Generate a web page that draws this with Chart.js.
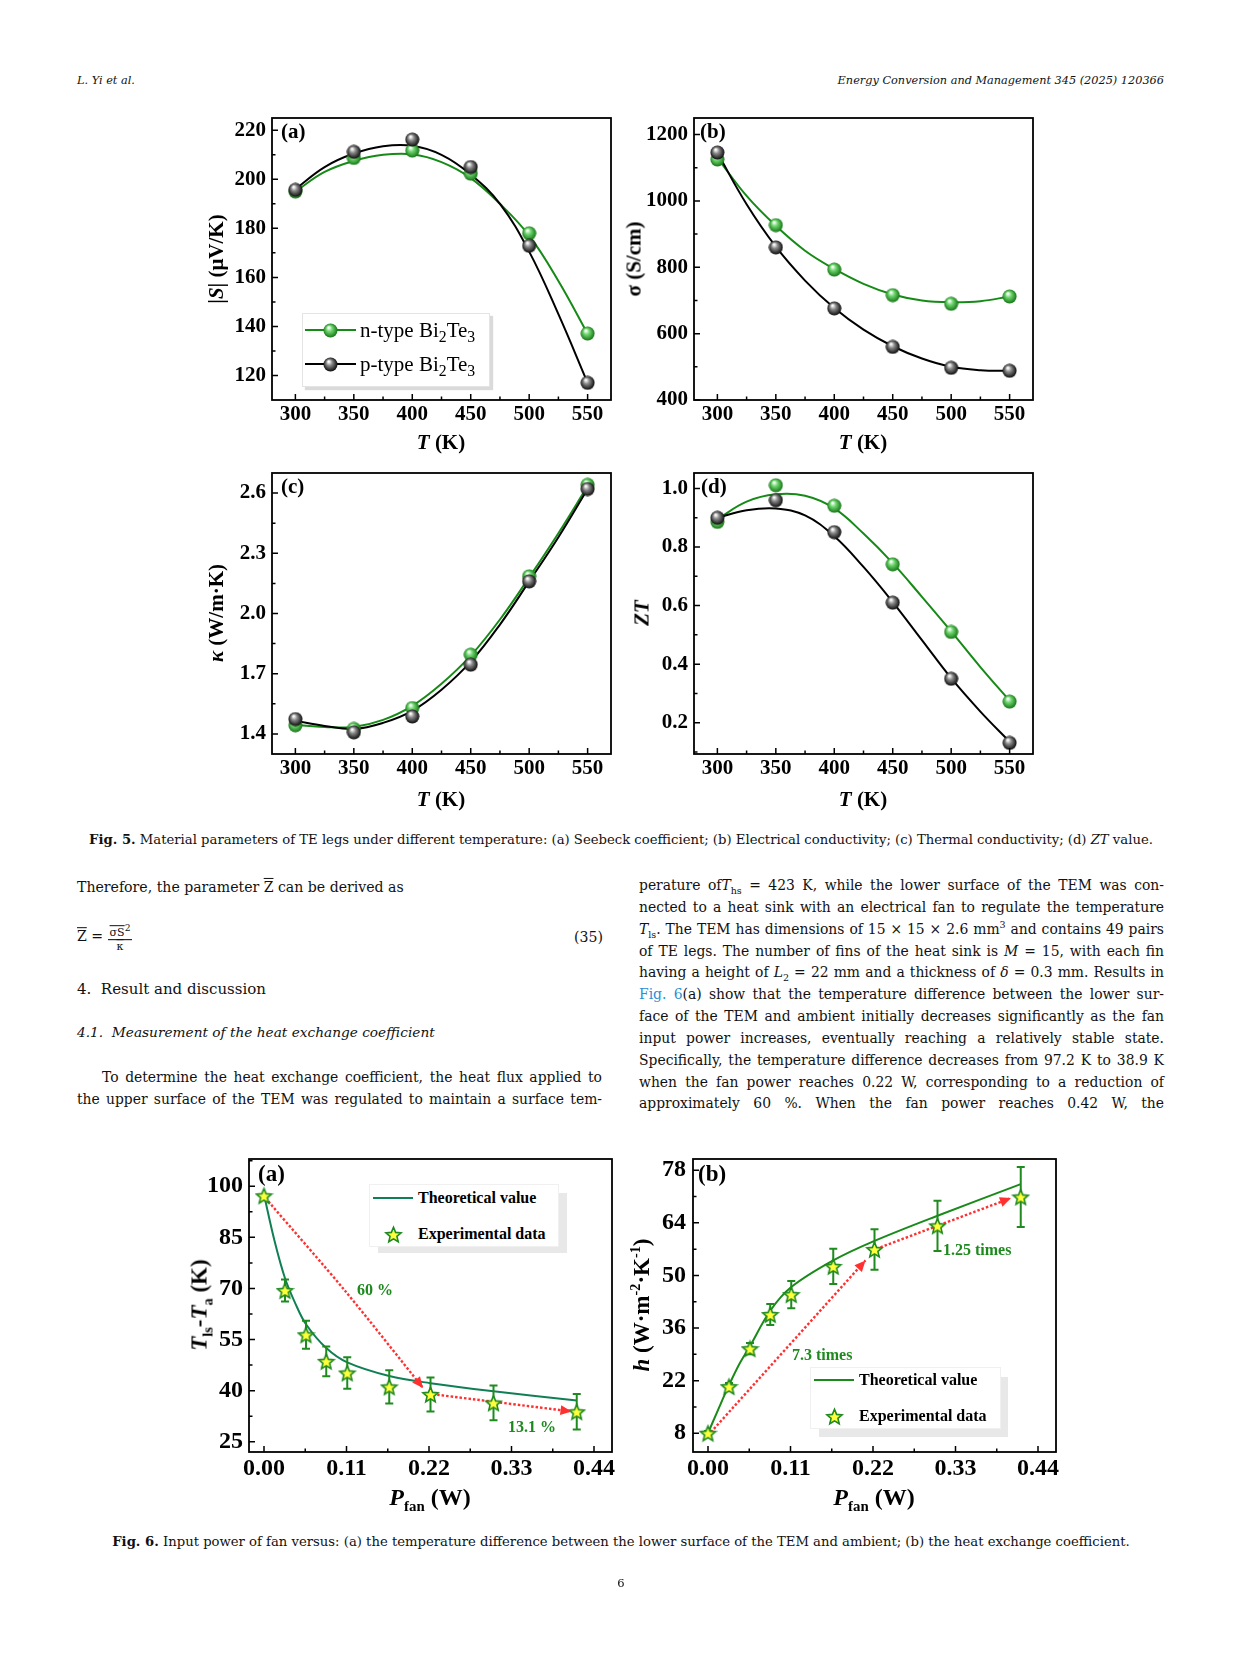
<!DOCTYPE html>
<html>
<head>
<meta charset="utf-8">
<title>Fig. 5 and Fig. 6</title>
<script src="https://cdn.jsdelivr.net/npm/chart.js@4.4.1/dist/chart.umd.min.js"></script>
<style>
  body { margin: 0; background: #fff; }
  #page { position: relative; width: 1241px; height: 1654px; overflow: hidden; font-family: "DejaVu Serif", serif; color: #111; }
  #page canvas { position: absolute; }
  .t { position: absolute; white-space: nowrap; line-height: 1; }
  .c { transform: translate(-50%, -50%); }
  .v { transform: translate(-50%, -50%) rotate(-90deg); }
  .m { transform: translateY(-50%); }
  .ax { font-family: "Liberation Serif", serif; font-weight: bold; color: #000; }
  .ax sub, .ax sup { font-size: 62%; line-height: 0; }
  .col { position: absolute; width: 525px; font-size: 13.9px; line-height: 22px; height: 22px; white-space: nowrap; text-align: justify; text-align-last: justify; }
  .col.l { left: 77px; }
  .col.r { left: 639px; }
  .col sub, .col sup { font-size: 9.5px; line-height: 0; }
  .leg { position: absolute; background: #fff; }
  .leg .t { font-family: "Liberation Serif", serif; color: #000; }
  .leg sub { font-size: 75%; line-height: 0; }
  .grn { color: #1e8a1e; font-family: "Liberation Serif", serif; font-weight: bold; font-size: 16px; }
  .ov { text-decoration: overline; }
  .frac { display: inline-block; vertical-align: middle; text-align: center; font-size: 11px; line-height: 13px; }
  .frac .num { display: block; border-bottom: 1.4px solid #000; padding: 0 2px; }
  .frac .den { display: block; }
</style>
</head>
<body>
<div id="page">

  <div class="t m" style="left:77px;top:81px;font-size:11.3px;font-style:italic">L. Yi et al.</div>
  <div class="t m" style="right:77px;top:81px;font-size:11.3px;font-style:italic">Energy Conversion and Management 345 (2025) 120366</div>

  <!-- Fig. 5 -->
  <canvas id="f5a"></canvas>
  <canvas id="f5b"></canvas>
  <canvas id="f5c"></canvas>
  <canvas id="f5d"></canvas>

  <div class="t m ax" style="left:281px;top:131px;font-size:21px">(a)</div>
  <div class="t m ax" style="left:700px;top:131px;font-size:21px">(b)</div>
  <div class="t m ax" style="left:281px;top:486px;font-size:21px">(c)</div>
  <div class="t m ax" style="left:701px;top:486px;font-size:21px">(d)</div>

  <div class="t c ax" style="left:441px;top:442px;font-size:21px"><i>T</i> (K)</div>
  <div class="t c ax" style="left:863px;top:442px;font-size:21px"><i>T</i> (K)</div>
  <div class="t c ax" style="left:441px;top:799px;font-size:21px"><i>T</i> (K)</div>
  <div class="t c ax" style="left:863px;top:799px;font-size:21px"><i>T</i> (K)</div>

  <div class="t v ax" style="left:216px;top:259px;font-size:21px">|<i>S</i>| (μV/K)</div>
  <div class="t v ax" style="left:634px;top:259px;font-size:21px">σ (S/cm)</div>
  <div class="t v ax" style="left:216px;top:613px;font-size:21px"><i>κ</i> (W/m·K)</div>
  <div class="t v ax" style="left:642px;top:613px;font-size:21px"><i>ZT</i></div>

  <div class="leg" style="left:302px;top:313px;width:186px;height:72px;border:1px solid #e4e4e4;box-shadow:3px 3px 1px #dadada">
    <div style="position:absolute;left:2px;top:15px;width:51px;height:2px;background:#168a16"></div>
    <img id="lgN" style="position:absolute;left:20px;top:9px">
    <div class="t m" style="left:57px;top:16px;font-size:21px">n-type Bi<sub>2</sub>Te<sub>3</sub></div>
    <div style="position:absolute;left:2px;top:49px;width:51px;height:2px;background:#000"></div>
    <img id="lgP" style="position:absolute;left:20px;top:43px">
    <div class="t m" style="left:57px;top:50px;font-size:21px">p-type Bi<sub>2</sub>Te<sub>3</sub></div>
  </div>

  <div class="t c" style="left:621px;top:840px;font-size:13.2px"><b>Fig. 5.</b> Material parameters of TE legs under different temperature: (a) Seebeck coefficient; (b) Electrical conductivity; (c) Thermal conductivity; (d) <i>ZT</i> value.</div>

  <!-- text columns -->
  <div class="t m" style="left:77px;top:887px;font-size:14.1px">Therefore, the parameter <span class="ov">Z</span> can be derived as</div>
  <div class="t m" style="left:77px;top:937px;font-size:14.1px"><span class="ov">Z</span> = <span class="frac"><span class="num"><span class="ov">σ</span><span class="ov">S</span><sup>2</sup></span><span class="den"><span class="ov">κ</span></span></span></div>
  <div class="t m" style="right:638px;top:937px;font-size:14.1px">(35)</div>
  <div class="t m" style="left:77px;top:989px;font-size:15px">4.&nbsp;&nbsp;Result and discussion</div>
  <div class="t m" style="left:77px;top:1033px;font-size:13.7px;font-style:italic">4.1.&nbsp;&nbsp;Measurement of the heat exchange coefficient</div>
  <div class="col l" style="top:1066px;left:102px;width:500px">To determine the heat exchange coefficient, the heat flux applied to</div>
  <div class="col l" style="top:1088px">the upper surface of the TEM was regulated to maintain a surface tem-</div>

  <div class="col r" style="top:874px">perature of<i>T</i><sub>hs</sub> = 423 K, while the lower surface of the TEM was con-</div>
  <div class="col r" style="top:896px">nected to a heat sink with an electrical fan to regulate the temperature</div>
  <div class="col r" style="top:918px"><i>T</i><sub>ls</sub>. The TEM has dimensions of 15 × 15 × 2.6 mm<sup>3</sup> and contains 49 pairs</div>
  <div class="col r" style="top:940px">of TE legs. The number of fins of the heat sink is <i>M</i> = 15, with each fin</div>
  <div class="col r" style="top:961px">having a height of <i>L</i><sub>2</sub> = 22 mm and a thickness of <i>δ</i> = 0.3 mm. Results in</div>
  <div class="col r" style="top:983px"><span style="color:#2a8fd2">Fig. 6</span>(a) show that the temperature difference between the lower sur-</div>
  <div class="col r" style="top:1005px">face of the TEM and ambient initially decreases significantly as the fan</div>
  <div class="col r" style="top:1027px">input power increases, eventually reaching a relatively stable state.</div>
  <div class="col r" style="top:1049px">Specifically, the temperature difference decreases from 97.2 K to 38.9 K</div>
  <div class="col r" style="top:1071px">when the fan power reaches 0.22 W, corresponding to a reduction of</div>
  <div class="col r" style="top:1092px">approximately 60 %. When the fan power reaches 0.42 W, the</div>

  <!-- Fig. 6 -->
  <canvas id="f6a"></canvas>
  <canvas id="f6b"></canvas>

  <div class="t m ax" style="left:258px;top:1173px;font-size:23px">(a)</div>
  <div class="t m ax" style="left:698px;top:1173px;font-size:23px">(b)</div>

  <div class="t c ax" style="left:430px;top:1497px;font-size:24px"><i>P</i><sub>fan</sub> (W)</div>
  <div class="t c ax" style="left:874px;top:1497px;font-size:24px"><i>P</i><sub>fan</sub> (W)</div>
  <div class="t v ax" style="left:199px;top:1305px;font-size:23px"><i>T</i><sub>ls</sub>-<i>T</i><sub>a</sub> (K)</div>
  <div class="t v ax" style="left:641px;top:1305px;font-size:23px"><i>h</i> (W·m<sup>-2</sup>·K<sup>-1</sup>)</div>

  <div class="t c grn" style="left:375px;top:1290px">60 %</div>
  <div class="t c grn" style="left:532px;top:1427px">13.1 %</div>
  <div class="t m grn" style="left:792px;top:1355px">7.3 times</div>
  <div class="t m grn" style="left:943px;top:1250px">1.25 times</div>

  <div class="leg" style="left:378px;top:1193px;width:189px;height:60px;background:#e8e8e8"></div>
  <div class="leg" style="left:369px;top:1184px;width:188px;height:61px;border:1px solid #f0f0f0">
    <div style="position:absolute;left:3px;top:12px;width:40px;height:2px;background:#117f55"></div>
    <div class="t m" style="left:48px;top:13px;font-size:16px;font-weight:bold">Theoretical value</div>
    <img class="lgS" style="position:absolute;left:14px;top:40px">
    <div class="t m" style="left:48px;top:49px;font-size:16px;font-weight:bold">Experimental data</div>
  </div>

  <div class="leg" style="left:819px;top:1377px;width:189px;height:60px;background:#e8e8e8"></div>
  <div class="leg" style="left:810px;top:1367px;width:189px;height:60px;border:1px solid #f0f0f0">
    <div style="position:absolute;left:3px;top:11px;width:40px;height:2px;background:#1a8a1a"></div>
    <div class="t m" style="left:48px;top:12px;font-size:16px;font-weight:bold">Theoretical value</div>
    <img class="lgS" style="position:absolute;left:14px;top:39px">
    <div class="t m" style="left:48px;top:48px;font-size:16px;font-weight:bold">Experimental data</div>
  </div>

  <div class="t c" style="left:621px;top:1542px;font-size:13.2px"><b>Fig. 6.</b> Input power of fan versus: (a) the temperature difference between the lower surface of the TEM and ambient; (b) the heat exchange coefficient.</div>

  <div class="t c" style="left:621px;top:1584px;font-size:11.5px">6</div>
</div>

<script>
// Fig. 5 - measured points
const temps = [300, 350, 400, 450, 500, 550];
const seebeckN = [195, 208.7, 211.7, 202.3, 178, 137.1];
const seebeckP = [195.7, 211.2, 216.2, 205, 172.9, 117];
const condN = [1125, 927, 793, 716, 690, 712];
const condP = [1146, 860, 676, 560, 497, 488];
const kappaN = [1.443, 1.425, 1.529, 1.795, 2.185, 2.641];
const kappaP = [1.474, 1.408, 1.487, 1.745, 2.16, 2.62];
const ztN = [0.886, 1.011, 0.941, 0.741, 0.51, 0.272];
const ztP = [0.9, 0.96, 0.851, 0.61, 0.35, 0.131];

const tempsFit = [300, 325, 350, 375, 400, 425, 450, 475, 500, 525, 550];
const seebeckNFit = [195, 203, 207.5, 210, 210.2, 207, 200.5, 190, 177, 158.5, 137];
const seebeckPFit = [196, 205, 210.5, 213.5, 213.7, 210, 202, 190, 170.5, 145, 117];
const condNFit = [1130, 1015, 925, 850, 795, 750, 718, 700, 695, 698, 712];
const condPFit = [1145, 990, 862, 760, 677, 612, 562, 525, 500, 490, 488];
const kappaNFit = [1.445, 1.435, 1.435, 1.47, 1.54, 1.65, 1.79, 1.97, 2.18, 2.40, 2.635];
const kappaPFit = [1.465, 1.44, 1.425, 1.455, 1.515, 1.62, 1.76, 1.945, 2.16, 2.38, 2.62];
const ztNFit = [0.895, 0.955, 0.98, 0.975, 0.932, 0.846, 0.745, 0.63, 0.512, 0.39, 0.275];
const ztPFit = [0.9, 0.926, 0.932, 0.908, 0.837, 0.732, 0.612, 0.482, 0.352, 0.238, 0.135];

// Fig. 6 - fan power
const pFan = [0, 0.028, 0.056, 0.083, 0.111, 0.167, 0.222, 0.306, 0.417];
const dTExp = [97.2, 69.4, 56.4, 48.6, 45.2, 41.1, 38.9, 36.4, 33.8];
const dTErr = [0, 3.2, 4.1, 4.4, 4.6, 4.9, 5.0, 5.1, 5.2];
const hExp = [8, 20.4, 30.5, 39.6, 44.9, 52.4, 56.9, 63.2, 70.9];
const hErr = [0.6, 1.0, 1.5, 2.8, 3.6, 4.7, 5.4, 6.7, 8.0];
const pFanFit = [0, 0.014, 0.028, 0.042, 0.056, 0.083, 0.111, 0.167, 0.222, 0.306, 0.417];
const dTFit = [97.5, 84, 73, 65.5, 59.5, 52.5, 48.3, 44.3, 42.2, 39.8, 37.1];
const hFit = [8, 14.5, 20.8, 26.5, 31.2, 40.6, 46.9, 54, 59.2, 65.9, 74.3];

// red dotted arrows (data coordinates)
const arrowA1X = [0.006, 0.11, 0.212], arrowA1Y = [95.5, 68.8, 40.8];
const arrowA2X = [0.231, 0.41], arrowA2Y = [38.8, 33.9];
const arrowB1X = [0.004, 0.21], arrowB1Y = [8.3, 54];
const arrowB2X = [0.23, 0.404], arrowB2Y = [57.5, 70.6];

// tick labels
const tempTicks = [300, 350, 400, 450, 500, 550];
const seebeckTicks = [120, 140, 160, 180, 200, 220];
const condTicks = [400, 600, 800, 1000, 1200];
const kappaTicks = [1.4, 1.7, 2.0, 2.3, 2.6];
const ztTicks = [0.2, 0.4, 0.6, 0.8, 1.0];
const fanTicks = [0, 0.11, 0.22, 0.33, 0.44];
const dTTicks = [25, 40, 55, 70, 85, 100];
const hTicks = [8, 22, 36, 50, 64, 78];

const SERIF = '"Liberation Serif", "Times New Roman", serif';
const GREEN = '#168a16';
const RED = '#ff3030';

const xy = (xs, ys) => xs.map((x, i) => ({x: x, y: ys[i]}));

// shaded ball marker
function ball(light, dark, d) {
  const c = document.createElement('canvas');
  c.width = c.height = d;
  const g = c.getContext('2d');
  const r = d / 2;
  const grad = g.createRadialGradient(r * 0.75, r * 0.6, r * 0.08, r, r, r);
  grad.addColorStop(0, '#ffffff');
  grad.addColorStop(0.35, light);
  grad.addColorStop(1, dark);
  g.fillStyle = grad;
  g.beginPath();
  g.arc(r, r, r - 0.5, 0, Math.PI * 2);
  g.fill();
  return c;
}

// yellow star with green edge
function star(d) {
  const c = document.createElement('canvas');
  c.width = c.height = d;
  const g = c.getContext('2d');
  const R = d / 2 - 1.5, r = R * 0.45, cx = d / 2, cy = d / 2 + 0.8;
  g.beginPath();
  for (let i = 0; i < 10; i++) {
    const a = -Math.PI / 2 + i * Math.PI / 5;
    const rr = i % 2 ? r : R;
    g.lineTo(cx + rr * Math.cos(a), cy + rr * Math.sin(a));
  }
  g.closePath();
  g.fillStyle = '#ffff3c';
  g.fill();
  g.strokeStyle = '#1f8a1f';
  g.lineWidth = 1.6;
  g.stroke();
  return c;
}

const ballG = ball('#6fd66f', '#0d6e0d', 15);
const ballK = ball('#8a8a8a', '#000000', 15);
const starImg = star(19);

document.getElementById('lgN').src = ballG.toDataURL();
document.getElementById('lgP').src = ballK.toDataURL();
document.querySelectorAll('.lgS').forEach(el => { el.src = starImg.toDataURL(); });

// minor ticks sit half way between the labelled ones
function minors(vals, min, max) {
  const step = vals[1] - vals[0];
  const out = [vals[0] - step / 2];
  for (let i = 1; i < vals.length; i++) out.push((vals[i] + vals[i - 1]) / 2);
  out.push(vals[vals.length - 1] + step / 2);
  return out.filter(v => v > min && v < max);
}

// box frame, inward ticks, error bars and arrow heads
const framePlugin = {
  id: 'frame',
  beforeDatasetDraw(chart, args, opts) {
    if (!opts.errors || args.index !== opts.errors.dataset) return;
    const ctx = chart.ctx, ys = chart.scales.y;
    const pts = chart.getDatasetMeta(args.index).data;
    const src = chart.data.datasets[args.index].data;
    ctx.save();
    ctx.strokeStyle = opts.errors.color;
    ctx.lineWidth = 2;
    pts.forEach((p, i) => {
      const e = opts.errors.values[i];
      if (!e) return;
      const top = ys.getPixelForValue(src[i].y + e);
      const bot = ys.getPixelForValue(src[i].y - e);
      ctx.beginPath();
      ctx.moveTo(p.x, top); ctx.lineTo(p.x, bot);
      ctx.moveTo(p.x - 4, top); ctx.lineTo(p.x + 4, top);
      ctx.moveTo(p.x - 4, bot); ctx.lineTo(p.x + 4, bot);
      ctx.stroke();
    });
    ctx.restore();
  },
  afterDatasetsDraw(chart, args, opts) {
    const ctx = chart.ctx;
    (opts.arrows || []).forEach(idx => {
      const pts = chart.getDatasetMeta(idx).data;
      const a = pts[pts.length - 2], b = pts[pts.length - 1];
      const ang = Math.atan2(b.y - a.y, b.x - a.x);
      ctx.save();
      ctx.translate(b.x, b.y);
      ctx.rotate(ang);
      ctx.beginPath();
      ctx.moveTo(0, 0);
      ctx.lineTo(-11, -5);
      ctx.lineTo(-11, 5);
      ctx.closePath();
      ctx.fillStyle = RED;
      ctx.fill();
      ctx.restore();
    });
  },
  afterDraw(chart) {
    const {ctx, chartArea: a, scales: {x, y}} = chart;
    ctx.save();
    ctx.strokeStyle = '#000';
    ctx.lineWidth = 1.8;
    ctx.strokeRect(a.left, a.top, a.right - a.left, a.bottom - a.top);
    ctx.lineWidth = 1.5;
    const xv = x.ticks.map(t => t.value), yv = y.ticks.map(t => t.value);
    ctx.beginPath();
    xv.forEach(v => { const p = x.getPixelForValue(v); ctx.moveTo(p, a.bottom); ctx.lineTo(p, a.bottom - 6); });
    minors(xv, x.min, x.max).forEach(v => { const p = x.getPixelForValue(v); ctx.moveTo(p, a.bottom); ctx.lineTo(p, a.bottom - 3.5); });
    yv.forEach(v => { const p = y.getPixelForValue(v); ctx.moveTo(a.left, p); ctx.lineTo(a.left + 6, p); });
    minors(yv, y.min, y.max).forEach(v => { const p = y.getPixelForValue(v); ctx.moveTo(a.left, p); ctx.lineTo(a.left + 3.5, p); });
    ctx.stroke();
    ctx.restore();
  }
};

// one framed panel; box is the plot area in page pixels
function panel(id, box, xa, ya, datasets, extra) {
  const pad = {l: 76, r: 12, t: 26, b: 44};
  const cv = document.getElementById(id);
  cv.width = box.w + pad.l + pad.r;
  cv.height = box.h + pad.t + pad.b;
  cv.style.left = (box.x - pad.l) + 'px';
  cv.style.top = (box.y - pad.t) + 'px';
  const axis = (o, fit) => ({
    type: 'linear',
    min: o.min,
    max: o.max,
    afterBuildTicks: s => { s.ticks = o.ticks.map(v => ({value: v})); },
    afterFit: fit,
    grid: {display: false, drawTicks: false},
    border: {display: false},
    ticks: {
      color: '#000', padding: o.pad, autoSkip: false, maxRotation: 0,
      font: {family: SERIF, weight: 'bold', size: o.size},
      callback: o.fmt
    }
  });
  return new Chart(cv, {
    type: 'scatter',
    data: {datasets: datasets},
    options: {
      responsive: false,
      animation: false,
      events: [],
      layout: {padding: {left: 0, right: pad.r, top: pad.t, bottom: 0}},
      plugins: {legend: {display: false}, tooltip: {enabled: false}, frame: extra || {}},
      scales: {
        x: axis(xa, s => { s.height = pad.b; }),
        y: axis(ya, s => { s.width = pad.l; })
      }
    },
    plugins: [framePlugin]
  });
}

function fig5(id, box, ya, n, p, nFit, pFit) {
  const xa = {min: 280, max: 570, ticks: tempTicks, pad: 2, size: 21, fmt: v => String(v)};
  return panel(id, box, xa, ya, [
    {data: xy(temps, p), showLine: false, pointStyle: ballK, pointRadius: 7, order: 1},
    {data: xy(temps, n), showLine: false, pointStyle: ballG, pointRadius: 7, order: 2},
    {data: xy(tempsFit, pFit), showLine: true, borderColor: '#000', borderWidth: 2, pointRadius: 0, tension: 0.4, order: 3},
    {data: xy(tempsFit, nFit), showLine: true, borderColor: GREEN, borderWidth: 2, pointRadius: 0, tension: 0.4, order: 4}
  ]);
}

function fig6(id, box, ya, exp, err, fit, lineColor, arrows) {
  const xa = {min: -0.02, max: 0.464, ticks: fanTicks, pad: 2, size: 24, fmt: v => v.toFixed(2)};
  const ds = [
    {data: xy(pFan, exp), showLine: false, pointStyle: starImg, pointRadius: 8, order: 1},
    {data: xy(pFanFit, fit), showLine: true, borderColor: lineColor, borderWidth: 2, pointRadius: 0, tension: 0.35, order: 3}
  ];
  arrows.forEach(a => ds.push({
    data: xy(a[0], a[1]), showLine: true, borderColor: RED, borderWidth: 2.4,
    borderDash: [2.5, 2], pointRadius: 0, tension: 0.3, order: 2
  }));
  return panel(id, box, xa, ya, ds, {errors: {dataset: 0, values: err, color: '#1f8b1f'}, arrows: [2, 3]});
}

fig5('f5a', {x: 272, y: 118, w: 339, h: 282},
  {min: 110, max: 225, ticks: seebeckTicks, pad: 6, size: 21, fmt: v => String(v)},
  seebeckN, seebeckP, seebeckNFit, seebeckPFit);
fig5('f5b', {x: 694, y: 118, w: 339, h: 282},
  {min: 400, max: 1250, ticks: condTicks, pad: 6, size: 21, fmt: v => String(v)},
  condN, condP, condNFit, condPFit);
fig5('f5c', {x: 272, y: 473, w: 339, h: 281},
  {min: 1.3, max: 2.7, ticks: kappaTicks, pad: 6, size: 21, fmt: v => v.toFixed(1)},
  kappaN, kappaP, kappaNFit, kappaPFit);
fig5('f5d', {x: 694, y: 473, w: 339, h: 281},
  {min: 0.093, max: 1.053, ticks: ztTicks, pad: 6, size: 21, fmt: v => v.toFixed(1)},
  ztN, ztP, ztNFit, ztPFit);

fig6('f6a', {x: 249, y: 1159, w: 363, h: 293},
  {min: 22, max: 108, ticks: dTTicks, pad: 6, size: 24, fmt: v => String(v)},
  dTExp, dTErr, dTFit, '#117f55', [[arrowA1X, arrowA1Y], [arrowA2X, arrowA2Y]]);
fig6('f6b', {x: 693, y: 1159, w: 363, h: 293},
  {min: 3, max: 81, ticks: hTicks, pad: 7, size: 24, fmt: v => String(v)},
  hExp, hErr, hFit, '#1a8a1a', [[arrowB1X, arrowB1Y], [arrowB2X, arrowB2Y]]);
</script>
</body>
</html>
